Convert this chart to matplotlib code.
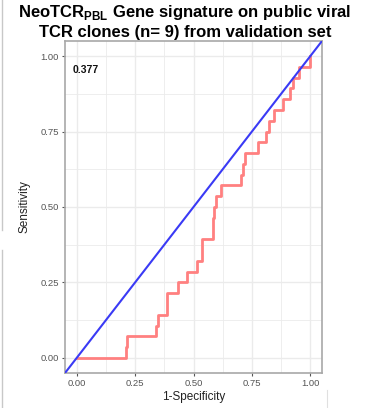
import matplotlib
matplotlib.use("Agg")
import matplotlib.pyplot as plt
import numpy as np

plt.rcParams["font.family"] = ["Liberation Sans", "DejaVu Sans"]
plt.rcParams["mathtext.fontset"] = "custom"
plt.rcParams["mathtext.rm"] = "Liberation Sans"
plt.rcParams["mathtext.bf"] = "Liberation Sans:bold"

# ROC staircase corners: false positive rate (1-Specificity) and
# true positive rate (Sensitivity, in units of 1/28)
fpr = [0.0, 0.209, 0.209, 0.217, 0.217, 0.338, 0.338, 0.349, 0.349, 0.385,
       0.385, 0.432, 0.432, 0.471, 0.471, 0.513, 0.513, 0.538, 0.538, 0.582,
       0.582, 0.587, 0.587, 0.597, 0.597, 0.618, 0.618, 0.703, 0.703, 0.710,
       0.710, 0.721, 0.721, 0.778, 0.778, 0.811, 0.811, 0.825, 0.825, 0.843,
       0.843, 0.883, 0.883, 0.911, 0.911, 0.928, 0.928, 0.950, 0.950, 1.0, 1.0]
tpr_counts = [0, 0, 1, 1, 2, 2, 3, 3, 4, 4,
              6, 6, 7, 7, 8, 8, 9, 9, 11, 11,
              13, 13, 14, 14, 15, 15, 16, 16, 17, 17,
              18, 18, 19, 19, 20, 20, 21, 21, 22, 22,
              23, 23, 24, 24, 25, 25, 26, 26, 27, 27, 28]
n_pos = 28
auc_label = "0.377"
ticks = [0.0, 0.25, 0.5, 0.75, 1.0]
tick_labels = ["0.00", "0.25", "0.50", "0.75", "1.00"]

tpr = np.array(tpr_counts) / n_pos

fig = plt.figure(figsize=(3.70, 4.08), dpi=100)
ax = fig.add_axes([65 / 370, 1 - 373 / 408, (322 - 65) / 370, (373 - 41) / 408])

ax.set_xlim(-0.05, 1.05)
ax.set_ylim(-0.05, 1.05)

# theme_bw-like grid
for v in np.arange(0, 1.01, 0.125):
    ax.axvline(v, color="#EBEBEB", lw=0.6 if (v * 8) % 2 else 1.0, zorder=0)
    ax.axhline(v, color="#EBEBEB", lw=0.6 if (v * 8) % 2 else 1.0, zorder=0)

ax.plot([-0.05, 1.05], [-0.05, 1.05], color="#3A3AF5", lw=1.5, zorder=3,
        solid_capstyle="butt")
ax.plot(fpr, tpr, color="#FF8080", lw=2.0, zorder=2)

ax.text(-0.018, 0.955, auc_label, fontsize=7.5, fontweight="bold",
        ha="left", va="center", color="#111111")

ax.set_xticks(ticks)
ax.set_xticklabels(tick_labels)
ax.set_yticks(ticks)
ax.set_yticklabels(tick_labels)
ax.tick_params(axis="both", labelsize=6.8, colors="#555555", length=2.5,
               width=0.8, pad=2)
for s in ax.spines.values():
    s.set_color("#A8A8A8")
    s.set_linewidth(1.2)

ax.set_xlabel("1-Specificity", fontsize=8.5, labelpad=2, color="#222222")
ax.set_ylabel("Sensitivity", fontsize=8.5, labelpad=7, color="#222222")

fig.text(0.5, 1 - 13 / 408,
         r"$\mathbf{NeoTCR}_{\mathbf{PBL}}$ Gene signature on public viral",
         ha="center", va="center", fontsize=12, fontweight="bold")
fig.text(0.5, 1 - 33 / 408, "TCR clones (n= 9) from validation set",
         ha="center", va="center", fontsize=12, fontweight="bold")

# neighbouring panel edges
fig.add_artist(plt.Line2D([2 / 370, 2 / 370], [1.0, 1 - 230 / 408],
                          color="#C8C8C8", lw=1.0))
fig.add_artist(plt.Line2D([2 / 370, 2 / 370], [1 - 250 / 408, 0.0],
                          color="#C8C8C8", lw=1.0))
fig.add_artist(plt.Line2D([327 / 370, 327 / 370], [1 - 390 / 408, 0.0],
                          color="#E0E0E0", lw=0.8))

fig.savefig("out.png", dpi=100)
